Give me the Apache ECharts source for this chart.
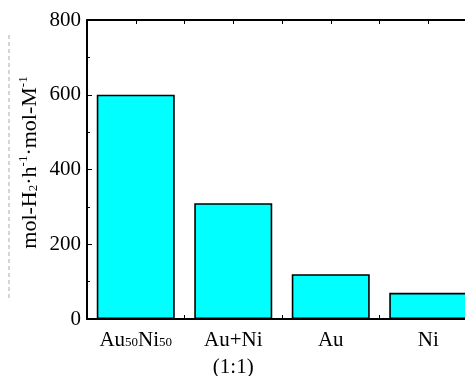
<!DOCTYPE html>
<html>
<head>
<meta charset="utf-8">
<script src="https://cdn.jsdelivr.net/npm/echarts@6/dist/echarts.min.js"></script>
<style>
  html, body { margin: 0; padding: 0; background: #fff; }
  #chart { width: 465px; height: 376px; }
</style>
</head>
<body>
<div id="chart"></div>
<script>
// Hydrogen production rate per catalyst
const categories = ['Au{sub|50}Ni{sub|50}', 'Au+Ni\n(1:1)', 'Au', 'Ni'];
const rates = [600, 310, 120, 70];
const yTicks = { min: 0, max: 800, interval: 200 };
// half-band slots used only to place the small tick marks on the x axes
const tickSlots = ['', '', '', '', '', '', '', ''];

const FONT = "'Liberation Serif', 'Times New Roman', serif";
const black = '#000';

const chart = echarts.init(document.getElementById('chart'), null, { renderer: 'canvas' });

chart.setOption({
  animation: false,
  backgroundColor: '#fff',
  grid: { left: 87, top: 20, width: 390, height: 299, outerBoundsMode: 'none', containLabel: false },
  graphic: [{
    type: 'line',
    shape: { x1: 9, y1: 35, x2: 9, y2: 300 },
    style: { stroke: '#aaa', lineWidth: 1, lineDash: [4, 3] },
    silent: true
  }],
  xAxis: [
    {
      type: 'category',
      data: categories,
      position: 'bottom',
      axisLine: { show: true, lineStyle: { color: black, width: 2 } },
      axisTick: { show: false },
      splitLine: { show: false },
      axisLabel: {
        color: black,
        fontFamily: FONT,
        fontSize: 21,
        lineHeight: 27,
        margin: 8,
        interval: 0,
        rich: {
          sub: { fontFamily: FONT, fontSize: 13, verticalAlign: 'middle', padding: [5, 0, 0, 0], color: black }
        }
      }
    },
    {
      type: 'category',
      data: tickSlots,
      position: 'bottom',
      axisLine: { show: false },
      axisTick: { show: true, inside: true, length: 4, lineStyle: { color: black, width: 1 } },
      axisLabel: { show: false },
      splitLine: { show: false }
    },
    {
      type: 'category',
      data: tickSlots,
      position: 'top',
      axisLine: { show: true, lineStyle: { color: black, width: 2 } },
      axisTick: { show: true, inside: true, length: 4, lineStyle: { color: black, width: 1 } },
      axisLabel: { show: false },
      splitLine: { show: false }
    }
  ],
  yAxis: {
    type: 'value',
    min: yTicks.min,
    max: yTicks.max,
    interval: yTicks.interval,
    axisLine: { show: true, lineStyle: { color: black, width: 2 } },
    axisTick: { show: true, inside: true, length: 5, lineStyle: { color: black, width: 1 } },
    minorTick: { show: true, splitNumber: 2, length: 3, lineStyle: { color: black, width: 1 } },
    splitLine: { show: false },
    axisLabel: { color: black, fontFamily: FONT, fontSize: 21, margin: 6 },
    name: 'mol-H{sub|2}·h{sup|-1}·mol-M{sup|-1}',
    nameLocation: 'middle',
    nameRotate: 90,
    nameMoveOverlap: false,
    nameGap: 44,
    nameTextStyle: {
      color: black,
      fontFamily: FONT,
      fontSize: 22,
      lineHeight: 26,
      padding: [0, 0, 0, 14],
      rich: {
        sub: { fontFamily: FONT, fontSize: 13, verticalAlign: 'middle', padding: [7, 0, 0, 0], color: black },
        sup: { fontFamily: FONT, fontSize: 13, verticalAlign: 'top', color: black, lineHeight: 16 }
      }
    }
  },
  series: [{
    type: 'bar',
    xAxisIndex: 0,
    data: rates,
    barWidth: '80%',
    itemStyle: { color: '#00FFFF', borderColor: black, borderWidth: 1.6 }
  }]
});
</script>
</body>
</html>
